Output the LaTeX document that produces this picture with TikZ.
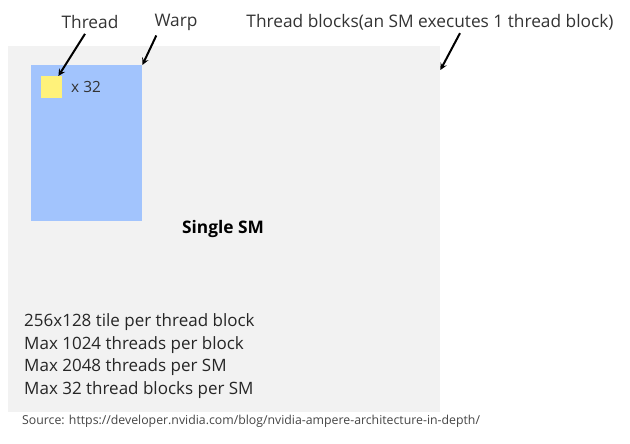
\documentclass[tikz,border=0pt]{standalone}
\usepackage{fontspec}
\setmainfont{Open Sans}
\usepackage{xcolor}
\definecolor{smgray}{HTML}{F2F2F2}
\definecolor{warpblue}{HTML}{A2C4FD}
\definecolor{threadyellow}{HTML}{FFF27A}
\definecolor{srcgray}{HTML}{444444}
\tikzstyle{smbox} = [rectangle, anchor=north west, minimum width=432pt, minimum height=366pt, inner sep=0pt, fill=smgray]
\tikzstyle{warpbox} = [rectangle, anchor=north west, minimum width=111pt, minimum height=156pt, inner sep=0pt, fill=warpblue]
\tikzstyle{threadbox} = [rectangle, anchor=north west, minimum width=21pt, minimum height=22pt, inner sep=0pt, fill=threadyellow]
\tikzstyle{label} = [font=\fontsize{17.3}{20}\selectfont, text=black!80, inner sep=0pt]
\tikzstyle{info} = [anchor=west, align=left, font=\fontsize{17}{22.7}\selectfont, text=black!85, inner sep=0pt]
\tikzstyle{arrow} = [line width=2pt,->,>=stealth]

\begin{document}
\begin{tikzpicture}[x=1pt,y=-1pt]
\useasboundingbox (0,0) rectangle (630,444);
\node (sm) [smbox] at (8,46) {};
\node (warp) [warpbox] at (31,65) {};
\node (thread) [threadbox] at (41,76) {};
\node (times) [anchor=west, font=\fontsize{15.4}{18}\selectfont, text=black!80, inner sep=0pt] at (71,87) {x 32};

\node (lblthread) [label] at (90,22) {Thread};
\node (lblwarp) [label] at (176,22) {Warp};
\node (lblblocks) [label] at (430,22) {Thread blocks(an SM executes 1 thread block)};

\node (single) [font=\bfseries\fontsize{17.3}{20}\selectfont, inner sep=0pt] at (223,229) {Single SM};

\node (limits) [info] at (24,356) {256x128 tile per thread block\\Max 1024 threads per block\\Max 2048 threads per SM\\Max 32 thread blocks per SM};

\node (source) [anchor=west, font=\fontsize{12.3}{14}\selectfont, text=srcgray, inner sep=0pt] at (22,421) {Source: https://developer.nvidia.com/blog/nvidia-ampere-architecture-in-depth/};

\draw [arrow] ([xshift=-5pt,yshift=-5pt]lblthread.south) -- ([xshift=-4pt]thread.north east);
\draw [arrow] ([xshift=2pt,yshift=-5pt]lblwarp.south west) -- (warp.north east);
\draw [arrow] ([xshift=30pt,yshift=-3pt]lblblocks.south) -- ([yshift=-24pt]sm.north east);
\end{tikzpicture}
\end{document}
